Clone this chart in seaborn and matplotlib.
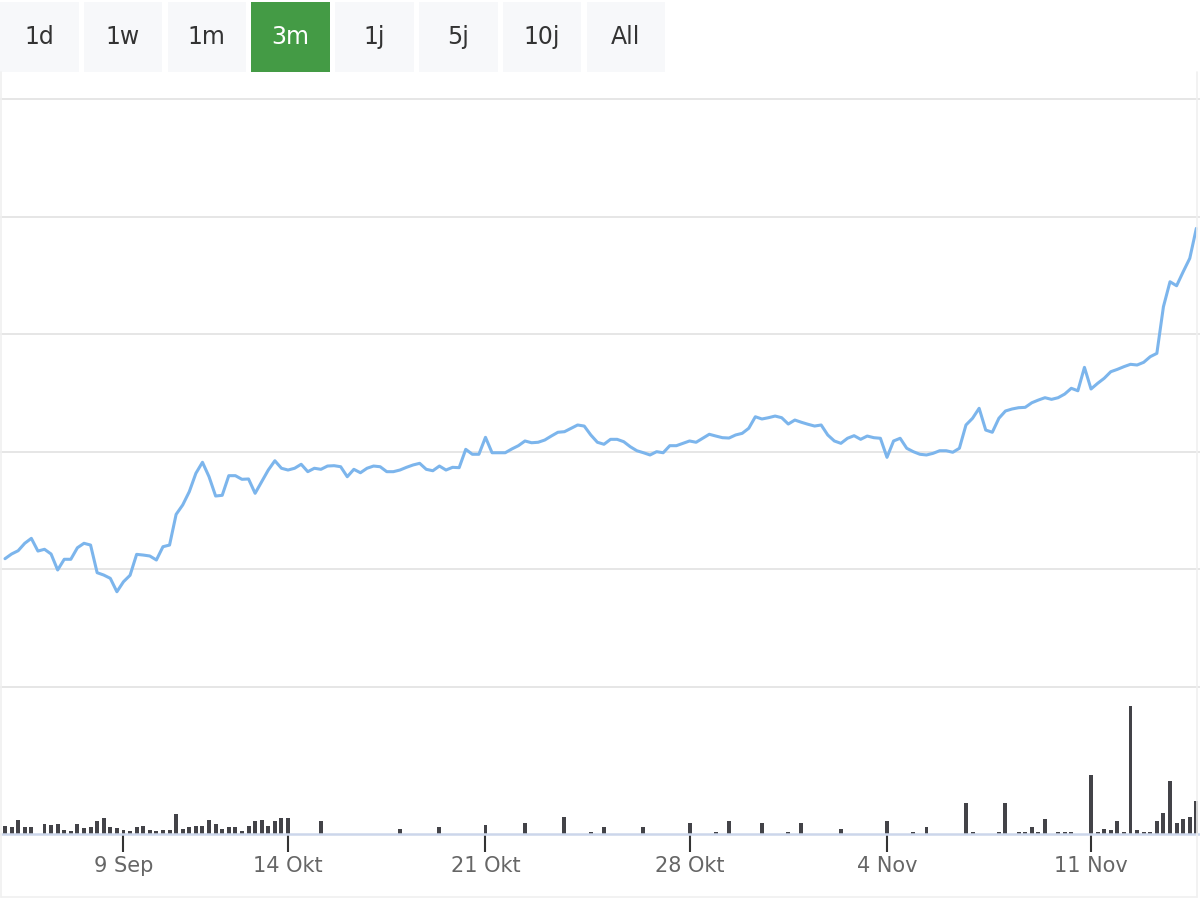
import numpy as np
import pandas as pd
import seaborn as sns
import matplotlib.pyplot as plt
from matplotlib.patches import Rectangle
from matplotlib.lines import Line2D

# Kursverlauf, ordinale Zeitachse (ein Wert pro Intervall, Lücken ausgeblendet)
kurs = [
    10.91, 11.31, 11.59, 12.22, 12.64, 11.56, 11.71, 11.31, 9.95, 10.86,
    10.86, 11.84, 12.22, 12.07, 9.72, 9.52, 9.24, 8.10, 8.95, 9.50,
    11.28, 11.22, 11.14, 10.80, 11.93, 12.07, 14.68, 15.48, 16.61, 18.17,
    19.11, 17.88, 16.24, 16.30, 17.97, 17.97, 17.66, 17.69, 16.47, 17.46,
    18.45, 19.24, 18.60, 18.45, 18.60, 18.94,
    18.31, 18.60, 18.51, 18.79, 18.82, 18.73, 17.88, 18.51, 18.22, 18.60,
    18.79, 18.73, 18.31, 18.31, 18.45, 18.68, 18.88, 19.02, 18.51, 18.39,
    18.79, 18.45, 18.68, 18.65, 20.21, 19.79, 19.79, 21.23, 19.92, 19.92,
    19.92, 20.24, 20.52, 20.92, 20.77, 20.81, 21.00, 21.34, 21.66, 21.71,
    22.00, 22.28, 22.19, 21.43, 20.81,
    20.64, 21.06, 21.06, 20.86, 20.43, 20.09, 19.92, 19.73, 20.01, 19.92,
    20.52, 20.52, 20.72, 20.92, 20.81, 21.15, 21.49, 21.34, 21.20, 21.17,
    21.43, 21.57, 22.00, 22.98, 22.79, 22.90, 23.04, 22.90, 22.36, 22.70,
    22.51, 22.34, 22.19, 22.28, 21.43, 20.92, 20.72, 21.15, 21.37, 21.06,
    21.34, 21.20, 21.15, 19.53, 20.92,
    21.15, 20.30, 20.01, 19.79, 19.73, 19.87, 20.09, 20.09, 19.96, 20.30,
    22.28, 22.85, 23.70, 21.85, 21.66, 22.85, 23.47, 23.64, 23.75, 23.78,
    24.17, 24.40, 24.60, 24.46, 24.60, 24.91, 25.40, 25.19, 27.18, 25.34,
    25.82, 26.25, 26.81, 27.01, 27.24, 27.44, 27.38, 27.61, 28.09, 28.37,
    32.34, 34.46, 34.12, 35.31, 36.45, 39.00,
]

# Volumen: Position auf der ordinalen Achse und Stückzahl
vol_pos = [
    0, 1, 2, 3, 4, 6, 7, 8, 9, 10, 11, 12, 13, 14, 15, 16, 17, 18, 19, 20,
    21, 22, 23, 24, 25, 26, 27, 28, 29, 30, 31, 32, 33, 34, 35, 36, 37, 38,
    39, 40, 41, 42, 43,
    48, 60, 66, 73, 79, 85, 89, 91, 97, 104, 108, 110, 115, 119, 121, 127,
    134, 138, 140, 146, 147, 151, 152, 154, 155, 156, 157, 158, 160, 161,
    162, 165, 166, 167, 168, 169, 170, 171, 172, 173, 174, 175, 176, 177,
    178, 179, 180, 181,
]
vol_val = [
    830, 670, 1430, 670, 670, 1030, 870, 1030, 430, 270, 1030, 600, 670,
    1270, 1600, 670, 600, 430, 270, 670, 830, 430, 270, 430, 430, 2030, 500,
    670, 830, 830, 1430, 1030, 500, 670, 670, 270, 830, 1270, 1430, 830,
    1270, 1600, 1600,
    1300, 500, 700, 900, 1100, 1700, 200, 700, 700, 1100, 200, 1300, 1100,
    200, 1100, 500, 1300, 200, 700, 3150, 200, 200, 3150, 200, 200, 750,
    200, 1550, 200, 200, 200, 5950, 200, 550, 400, 1350, 200, 12800, 400,
    200, 200, 1350, 2150, 5350, 1150, 1550, 1750, 3350,
]

zeitraum = ['1d', '1w', '1m', '3m', '1j', '5j', '10j', 'All']
aktiv = '3m'

tick_labels = ['9 Sep', '14 Okt', '21 Okt', '28 Okt', '4 Nov', '11 Nov']
tick_pos = [18, 43, 73, 104, 134, 165]

df_kurs = pd.DataFrame({'t': np.arange(len(kurs)), 'kurs': kurs})
df_vol = pd.DataFrame({'t': vol_pos, 'volumen': vol_val})

sns.set_theme(style='white')
plt.rcParams['font.family'] = ['DejaVu Sans']

W, H = 1200, 900
fig = plt.figure(figsize=(12, 9), dpi=100)


def px_box(x0, y0, x1, y1):
    # pixel box (origin top left) -> figure fraction
    return [x0 / W, 1 - y1 / H, (x1 - x0) / W, (y1 - y0) / H]


# ordinal index i sits at x_off + dx*i pixels
dx, x_off = 6.582, 5.0
xlim = (-x_off / dx, (W - x_off) / dx)

# volume pane
ax_vol = fig.add_axes(px_box(0, 687, W, 834))
sns.barplot(data=df_vol, x='t', y='volumen', native_scale=True, ax=ax_vol,
            color='#434348', saturation=1, width=0.6, errorbar=None, linewidth=0)
# make sure every bar is ~4 px wide
for p in ax_vol.patches:
    cx = p.get_x() + p.get_width() / 2
    p.set_width(0.6)
    p.set_x(cx - 0.3)
ax_vol.set_xlim(*xlim)
ax_vol.set_ylim(0, 14700)
ax_vol.set_xlabel('')
ax_vol.set_ylabel('')
ax_vol.set_yticks([])
ax_vol.set_xticks(tick_pos, tick_labels)
for s in ['top', 'left', 'right']:
    ax_vol.spines[s].set_visible(False)
ax_vol.spines['bottom'].set_color('#ccd6eb')
ax_vol.spines['bottom'].set_linewidth(1.8)
ax_vol.tick_params(axis='x', bottom=True, direction='out', length=13, width=1.5,
                   color='#333333', labelsize=15, labelcolor='#666666', pad=3)
ax_vol.set_facecolor('none')

# price pane
ax = fig.add_axes(px_box(0, 96, W, 690))
ax.set_facecolor('none')
sns.lineplot(data=df_kurs, x='t', y='kurs', ax=ax, color='#7cb5ec', linewidth=2.2)
ax.set_xlim(*xlim)
ax.set_ylim(-3 / 11.76, 50 + 3 / 11.76)
ax.set_yticks([0, 10, 20, 30, 40, 50])
ax.grid(True, axis='y', color='#e6e6e6', linewidth=1.4)
ax.tick_params(left=False, labelleft=False, bottom=False, labelbottom=False)
ax.set_xlabel('')
ax.set_ylabel('')
for s in ax.spines.values():
    s.set_visible(False)

# faint chart frame (left, right, bottom)
rahmen = dict(transform=fig.transFigure, color='#f0f0f0', linewidth=1.2)
fig.add_artist(Line2D([1 / W, 1 / W], [3 / H, 1 - 72 / H], **rahmen))
fig.add_artist(Line2D([1197 / W, 1197 / W], [3 / H, 1 - 72 / H], **rahmen))
fig.add_artist(Line2D([1 / W, 1197 / W], [3 / H, 3 / H], **rahmen))

# range selector buttons
for i, lab in enumerate(zeitraum):
    x0 = 83.8 * i
    on = lab == aktiv
    fig.patches.append(Rectangle((x0 / W, 1 - 72 / H), 78.5 / W, 70 / H,
                                 transform=fig.transFigure, edgecolor='none',
                                 facecolor='#449b45' if on else '#f7f8fa'))
    fig.text((x0 + 39) / W, 1 - 37 / H, lab, ha='center', va='center', fontsize=17,
             color='white' if on else '#333333')

fig.savefig('out.png', dpi=100)
